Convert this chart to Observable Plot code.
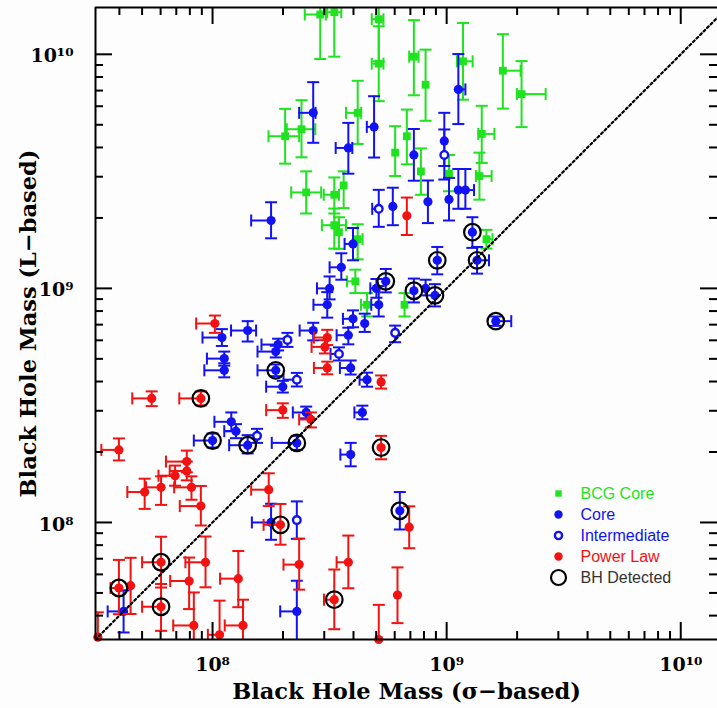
<!DOCTYPE html>
<html><head><meta charset="utf-8">
<script src="https://cdn.jsdelivr.net/npm/d3@7"></script>
<script src="https://cdn.jsdelivr.net/npm/@observablehq/plot@0.6"></script>
<style>
html,body{margin:0;padding:0;background:#fcfdfc;}
#wrap{width:717px;height:708px;overflow:hidden;}
</style></head><body><div id="wrap"></div>
<script>
// Each row: [log10 M(sigma), log10 M(L), x err low, x err high, y err low, y err high (dex), BH detected]
const bcgCore = [
  [8.46,10.17,0.066,0.024,0.19,0.19,0],[8.52,10.18,0.03,0.03,0.19,0.19,0],
  [8.71,10.15,0.03,0.02,0.18,0.18,0],[8.71,9.96,0.03,0.02,0.16,0.16,0],
  [8.86,9.99,0.02,0.02,0.165,0.156,0],[8.91,9.87,0,0,0.154,0.15,0],
  [9.07,9.97,0.026,0.041,0.164,0.164,0],[9.24,9.93,0,0.076,0.162,0.156,0],
  [9.32,9.83,0.02,0.103,0.141,0.141,0],[8.31,9.65,0.071,0.06,0.117,0.117,0],
  [8.38,9.68,0.063,0.059,0.12,0.124,0],[8.40,9.41,0.064,0.064,0.09,0.09,0],
  [8.62,9.75,0.05,0.015,0.133,0.137,0],[8.78,9.58,0,0,0.1,0.113,0],
  [8.83,9.65,0,0,0.12,0.114,0],[8.89,9.50,0,0,0.1,0.098,0],
  [9.15,9.66,0.015,0.054,0.124,0.12,0],[9.14,9.48,0.015,0.052,0.101,0.1,0],
  [9.01,9.49,0,0,0.075,0.08,0],[8.52,9.40,0.045,0.02,0.08,0.074,0],
  [8.56,9.44,0,0,0.097,0.06,0],[8.52,9.27,0.053,0.05,0.1,0.071,0],
  [8.54,9.24,0,0,0.071,0.064,0],[8.62,9.21,0.02,0.021,0.086,0.064,0],
  [8.61,9.03,0.036,0,0.05,0.05,0],[8.66,8.93,0.026,0,0.05,0.05,0],
  [8.82,8.93,0,0,0.05,0.05,0],[9.17,9.21,0,0.026,0.04,0.04,0]
];
const core = [
  [8.43,9.75,0.06,0.01,0.128,0.131,0],[8.25,9.29,0.085,0,0.076,0.078,0],
  [8.58,9.60,0.054,0.017,0.11,0.107,0],[8.69,9.69,0.031,0,0.131,0.131,0],
  [8.86,9.57,0,0,0.11,0.111,0],[8.99,9.63,0,0,0.107,0.12,0],
  [9.05,9.85,0,0.03,0.148,0.151,0],[8.92,9.37,0,0,0.091,0.091,0],
  [9.01,9.38,0,0,0.09,0.092,0],[9.05,9.42,0,0,0.08,0.09,0],
  [9.08,9.42,0,0.037,0.08,0.09,0],[8.77,9.35,0,0,0.08,0.08,0],
  [8.60,9.19,0.036,0,0.07,0.068,0],[8.55,9.09,0.05,0,0.053,0.06,0],
  [8.50,9.00,0.054,0,0.047,0.051,0],[8.49,8.93,0.059,0,0.055,0.054,0],
  [8.71,8.93,0.032,0,0.05,0.08,0],[8.70,9.00,0.026,0,0.04,0.04,0],
  [8.60,8.87,0.043,0,0.036,0.036,0],[8.65,8.85,0,0,0.036,0.042,0],
  [8.43,8.82,0.058,0,0.042,0.033,0],[8.58,8.80,0.05,0,0.039,0.032,0],
  [8.59,8.66,0.046,0,0.028,0.032,0],[8.66,8.61,0.032,0,0.03,0.03,0],
  [8.64,8.47,0.034,0,0.029,0.029,0],[8.40,8.47,0.057,0,0.025,0.025,0],
  [8.28,8.76,0.071,0,0.025,0.025,0],[8.27,8.73,0.078,0,0.025,0.025,0],
  [8.30,8.58,0.071,0,0.025,0.025,0],[8.04,8.79,0.083,0,0.036,0.036,0],
  [8.15,8.82,0.071,0.036,0.047,0.04,0],[8.05,8.70,0.074,0,0.03,0.03,0],
  [8.05,8.65,0.085,0,0.03,0.03,0],[8.08,8.43,0.072,0,0.04,0.04,0],
  [8.10,8.39,0.05,0,0.03,0.03,0],[8.59,8.29,0.044,0,0.05,0.05,0],
  [8.25,8.00,0.082,0,0.074,0.08,0],[8.36,7.62,0.071,0,0.131,0.131,0],
  [7.62,7.62,0.068,0,0.09,0.09,0],[8.91,9.00,0,0,0.03,0.037,0],
  [9.11,9.24,0,0,0.067,0.064,1],[8.96,9.12,0,0,0.06,0.057,1],
  [9.13,9.12,0,0.051,0.057,0.057,1],[8.74,9.03,0,0,0.047,0.053,1],
  [8.86,8.99,0,0,0.05,0.052,1],[8.95,8.97,0,0,0.047,0.048,1],
  [9.21,8.86,0,0.066,0.02,0.02,1],[8.27,8.65,0.078,0,0.025,0.025,1],
  [8.00,8.35,0.08,0,0.03,0.03,1],[8.15,8.33,0.079,0,0.035,0.043,1],
  [8.36,8.34,0.107,0,0.03,0.03,1],[8.80,8.05,0,0,0.08,0.08,1]
];
const intermediate = [
  [8.99,9.57,0,0,0.105,0.109,0],[8.71,9.34,0.028,0,0.077,0.081,0],
  [8.32,8.78,0,0,0.03,0.03,0],[8.54,8.72,0.036,0,0.028,0.028,0],
  [8.78,8.81,0,0,0.04,0.031,0],[8.36,8.61,0.057,0,0.029,0.029,0],
  [8.19,8.37,0,0,0.03,0.03,0],[8.36,8.01,0,0,0.08,0.08,0]
];
const powerLaw = [
  [8.83,9.31,0,0,0.082,0.078,0],[8.01,8.85,0.08,0,0.04,0.034,0],
  [8.49,8.79,0.057,0,0.032,0.033,0],[8.48,8.75,0.057,0,0.028,0.029,0],
  [8.49,8.66,0.057,0,0.027,0.027,0],[8.72,8.60,0,0,0.028,0.028,0],
  [8.30,8.48,0.071,0,0.033,0.029,0],[8.42,8.44,0.05,0,0.034,0.03,0],
  [7.74,8.53,0.083,0,0.033,0.03,0],[7.95,8.53,0.092,0,0.03,0.03,1],
  [7.60,8.31,0.075,0,0.045,0.049,0],[8.72,8.32,0,0,0.05,0.05,1],
  [7.71,8.13,0.074,0,0.072,0.057,0],[7.78,8.15,0.064,0,0.075,0.047,0],
  [7.84,8.20,0.071,0,0.043,0.043,0],[7.89,8.26,0.089,0,0.046,0.047,0],
  [7.89,8.22,0.073,0,0.04,0.04,0],[7.91,8.15,0.074,0,0.053,0.047,0],
  [7.95,8.07,0.09,0,0.083,0.086,0],[8.24,8.14,0.075,0,0.07,0.07,0],
  [8.29,7.99,0.072,0,0.085,0.089,1],[8.37,7.82,0.067,0,0.107,0.111,0],
  [8.84,7.98,0,0,0.09,0.089,0],[8.58,7.83,0.05,0,0.111,0.114,0],
  [8.52,7.67,0.044,0,0.126,0.129,1],[8.79,7.69,0,0,0.12,0.118,0],
  [8.71,7.50,0,0,0.15,0.148,0],[7.78,7.83,0.081,0,0.108,0.109,1],
  [7.78,7.64,0.081,0,0.103,0.097,1],[7.60,7.72,0.036,0,0.112,0.12,1],
  [7.65,7.73,0,0,0.121,0.119,0],[7.90,7.75,0.081,0,0.12,0.1,0],
  [7.97,7.83,0.086,0,0.107,0.11,0],[8.11,7.76,0.078,0,0.122,0.118,0],
  [7.92,7.56,0.088,0,0.14,0.141,0],[8.03,7.52,0.05,0,0.14,0.146,0],
  [8.13,7.56,0.078,0,0.11,0.11,0],[7.51,7.51,0,0,0.1,0.106,0]
];
const majorExponents = [8, 9, 10];
const tickLabels = ["10\u2078", "10\u2079", "10\u00b9\u2070"];
const legendLabels = ["BCG Core", "Core", "Intermediate", "Power Law", "BH Detected"];
const xTitle = "Black Hole Mass (\u03c3\u2212based)";
const yTitle = "Black Hole Mass (L\u2212based)";

const xDomain = [10 ** 7.5, 10 ** 10.157];
const yDomain = [10 ** 7.5, 10 ** 10.2];
const green = "#1ee31e", blue = "#1212f2", red = "#f21212", black = "#000";
const serif = "DejaVu Serif", sans = "Liberation Sans";

const toRows = (arr) => arr.map(([lx, ly, exl, exh, eyl, eyh, det]) => ({lx, ly, exl, exh, eyl, eyh, det}));
const series = [
  {rows: toRows(bcgCore), color: green, symbol: "square", fill: green, stroke: "none", sw: 0},
  {rows: toRows(core), color: blue, symbol: "circle", fill: blue, stroke: "none", sw: 0},
  {rows: toRows(intermediate), color: blue, symbol: "circle", fill: "white", stroke: blue, sw: 2.4},
  {rows: toRows(powerLaw), color: red, symbol: "circle", fill: red, stroke: "none", sw: 0}
];

const hCap = {draw(ctx, size) { const r = Math.sqrt(size / Math.PI); ctx.moveTo(-r, 0); ctx.lineTo(r, 0); }};
const vCap = {draw(ctx, size) { const r = Math.sqrt(size / Math.PI); ctx.moveTo(0, -r); ctx.lineTo(0, r); }};

const marks = [];
for (const s of series) {
  const vr = s.rows.filter(d => d.eyl + d.eyh > 0);
  const hr = s.rows.filter(d => d.exl + d.exh > 0);
  marks.push(Plot.ruleX(vr, {x: d => 10 ** d.lx, y1: d => 10 ** (d.ly - d.eyl), y2: d => 10 ** (d.ly + d.eyh), stroke: s.color, strokeWidth: 2, clip: true}));
  marks.push(Plot.ruleY(hr, {y: d => 10 ** d.ly, x1: d => 10 ** (d.lx - d.exl), x2: d => 10 ** (d.lx + d.exh), stroke: s.color, strokeWidth: 2, clip: true}));
  const vEnds = [], hEnds = [];
  for (const d of s.rows) {
    if (d.eyl > 0.005) vEnds.push({x: d.lx, y: d.ly - d.eyl});
    if (d.eyh > 0.005) vEnds.push({x: d.lx, y: d.ly + d.eyh});
    if (d.exl > 0.005) hEnds.push({x: d.lx - d.exl, y: d.ly});
    if (d.exh > 0.005) hEnds.push({x: d.lx + d.exh, y: d.ly});
  }
  marks.push(Plot.dot(vEnds, {x: d => 10 ** d.x, y: d => 10 ** d.y, symbol: hCap, r: 6, fill: "none", stroke: s.color, strokeWidth: 2, clip: true}));
  marks.push(Plot.dot(hEnds, {x: d => 10 ** d.x, y: d => 10 ** d.y, symbol: vCap, r: 6, fill: "none", stroke: s.color, strokeWidth: 2, clip: true}));
  marks.push(Plot.dot(s.rows, {x: d => 10 ** d.lx, y: d => 10 ** d.ly, symbol: s.symbol, r: s.symbol === "square" ? 4.4 : (s.sw ? 3.8 : 4.6), fill: s.fill, stroke: s.stroke, strokeWidth: s.sw}));
}
const detected = series.flatMap(s => s.rows.filter(d => d.det));
marks.push(Plot.dot(detected, {x: d => 10 ** d.lx, y: d => 10 ** d.ly, r: 8.3, fill: "none", stroke: black, strokeWidth: 2.2}));

// one-to-one line
marks.push(Plot.line([yDomain[0], yDomain[1]], {x: d => d, y: d => d, stroke: black, strokeWidth: 2.2, strokeDasharray: "2.2,2.8", clip: true}));

// frame (left, top, bottom)
marks.push(Plot.ruleX([xDomain[0]], {stroke: black, strokeWidth: 2}));
marks.push(Plot.ruleY([yDomain[0], yDomain[1]], {stroke: black, strokeWidth: 2}));

// ticks
const major = majorExponents.map(e => 10 ** e);
const minor = [];
for (let e = 7; e <= 10; e++) for (let m = 2; m <= 9; m++) minor.push(m * 10 ** e);
const minX = minor.filter(v => v > xDomain[0] && v < xDomain[1]);
const minY = minor.filter(v => v > yDomain[0] && v < yDomain[1]);
const H = 632, W = 622;
for (const [vals, len] of [[major, 17], [minX, 8]]) {
  marks.push(Plot.tickX(vals, {x: d => d, insetTop: H - len, stroke: black, strokeWidth: 2}));
  marks.push(Plot.tickX(vals, {x: d => d, insetBottom: H - len, stroke: black, strokeWidth: 2}));
}
for (const [vals, len] of [[major, 17], [minY, 8]]) {
  marks.push(Plot.tickY(vals, {y: d => d, insetRight: W - len, stroke: black, strokeWidth: 2}));
  marks.push(Plot.tickY(vals, {y: d => d, insetLeft: W - len, stroke: black, strokeWidth: 2}));
}
// tick labels
marks.push(Plot.text(major, {x: d => d, text: (d, i) => tickLabels[i], frameAnchor: "bottom", dy: 25, textAnchor: "middle", lineAnchor: "middle", fontSize: 19, fontWeight: "bold", fontFamily: serif, fill: black}));
marks.push(Plot.text(major, {y: d => d, text: (d, i) => tickLabels[i], frameAnchor: "left", dx: -22, dy: 2, textAnchor: "end", lineAnchor: "middle", fontSize: 19, fontWeight: "bold", fontFamily: serif, fill: black}));
// axis titles
marks.push(Plot.text([xTitle], {text: d => d, frameAnchor: "bottom", dy: 52, textAnchor: "middle", lineAnchor: "middle", fontSize: 22.5, fontWeight: "bold", fontFamily: serif, fill: black}));
marks.push(Plot.text([yTitle], {text: d => d, frameAnchor: "left", dx: -67, rotate: -90, textAnchor: "middle", lineAnchor: "middle", fontSize: 22.5, fontWeight: "bold", fontFamily: serif, fill: black}));

// legend
const legendStyles = [
  {symbol: "square", r: 3.6, fill: green, stroke: "none", sw: 0, color: green},
  {symbol: "circle", r: 4.2, fill: blue, stroke: "none", sw: 0, color: blue},
  {symbol: "circle", r: 3.6, fill: "white", stroke: blue, sw: 2.4, color: blue},
  {symbol: "circle", r: 4.2, fill: red, stroke: "none", sw: 0, color: red},
  {symbol: "circle", r: 7.5, fill: "none", stroke: black, sw: 2.2, color: "#333"}
];
legendLabels.forEach((label, i) => {
  const st = legendStyles[i];
  const dy = 486 + i * 21;
  marks.push(Plot.dot([label], {frameAnchor: "top-left", dx: 463, dy, symbol: st.symbol, r: st.r, fill: st.fill, stroke: st.stroke, strokeWidth: st.sw}));
  marks.push(Plot.text([label], {text: d => d, frameAnchor: "top-left", dx: 485, dy, textAnchor: "start", lineAnchor: "middle", fontSize: 16, fontFamily: sans, fill: st.color}));
});

const chart = Plot.plot({
  width: 717, height: 708,
  marginLeft: 95, marginRight: 0, marginTop: 7, marginBottom: 69,
  style: {background: "#fcfdfc"},
  x: {type: "log", domain: xDomain, axis: null},
  y: {type: "log", domain: yDomain, axis: null},
  marks
});
document.getElementById("wrap").appendChild(chart);
</script></body></html>
